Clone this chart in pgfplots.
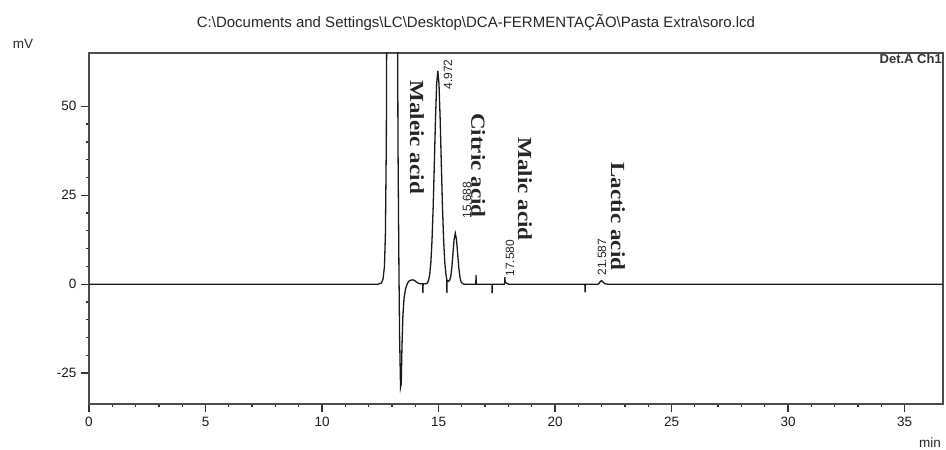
\documentclass[border=0pt]{standalone}
\usepackage{pgfplots}
\pgfplotsset{compat=1.18}
\usepackage{fontspec}
\setmainfont{Liberation Sans}
\newfontfamily\serifnames{Liberation Serif}
\usepackage{graphicx}

\pgfplotstableread{
t mv
0.00 0
12.40 0
12.55 0.3
12.62 1.5
12.68 5
12.72 14
12.76 40
12.80 120
13.00 300
13.22 120
13.26 40
13.30 5
13.33 -15
13.37 -29
13.40 -28
13.43 -18
13.47 -9
13.52 -4
13.58 -1.5
13.65 0
13.72 0.8
13.80 1.1
13.88 1.2
13.96 1.1
14.05 0.6
14.15 0.2
14.25 0.1
14.32 0.1
14.33 -2.5
14.34 0.1
14.45 0.1
14.52 0.3
14.57 1.0
14.62 2.6
14.67 6.0
14.72 12.2
14.77 21.6
14.82 33.8
14.87 46.5
14.92 56.3
14.97 60.0
15.02 56.3
15.07 46.5
15.12 33.8
15.17 21.6
15.22 12.2
15.27 6.0
15.32 2.6
15.355 1.3
15.36 -2.5
15.365 1.1
15.42 0.8
15.47 1.0
15.52 1.9
15.57 4.6
15.62 8.7
15.67 12.6
15.72 14.3
15.77 12.6
15.82 8.7
15.87 4.6
15.92 1.9
15.97 0.6
16.02 0.2
16.10 0
16.60 0
16.61 2.5
16.62 0
17.29 0
17.30 -2.5
17.31 0
17.83 0
17.84 0.5
17.85 2.0
17.86 0.6
17.92 0.3
18.00 0
21.28 0
21.29 -2.3
21.30 0
21.85 0
21.90 0.3
21.95 0.8
22.00 1.0
22.05 0.6
22.15 0.1
22.25 0
36.70 0
}\chrom

\begin{document}
\begin{tikzpicture}[x=1pt,y=1pt]
\path[use as bounding box] (0,0) rectangle (946,450);
\begin{axis}[
  at={(89pt,46pt)}, anchor=south west,
  scale only axis, width=854pt, height=351pt,
  xmin=0, xmax=36.65, ymin=-33.7, ymax=65,
  xtick={0,5,...,35}, ytick={-25,0,25,50},
  minor x tick num=4, minor y tick num=4,
  tick align=outside, xtick pos=bottom, ytick pos=left,
  major tick length=8pt, minor tick length=3pt,
  axis line style={draw=black!70, line width=1.6pt},
  every tick/.style={black!80, line width=1.3pt},
  tick label style={font=\fontsize{13.5}{16}\selectfont, text=black!90},
  /pgf/number format/assume math mode=true,
  xticklabel style={yshift=-2pt},
  yticklabel style={xshift=-1pt},
  clip=true,
]
\addplot[black!90, line width=1.3pt] table[x=t, y=mv] {\chrom};

\node[rotate=-90, font=\serifnames\bfseries\fontsize{20}{24}\selectfont, text=black!85] at (axis cs:14.08,41.3) {\scalebox{1.15}[1]{Maleic acid}};
\node[rotate=-90, font=\serifnames\bfseries\fontsize{20}{24}\selectfont, text=black!85] at (axis cs:16.70,33.4) {\scalebox{1.15}[1]{Citric acid}};
\node[rotate=-90, font=\serifnames\bfseries\fontsize{20}{24}\selectfont, text=black!85] at (axis cs:18.71,26.7) {\scalebox{1.15}[1]{Malic acid}};
\node[rotate=-90, font=\serifnames\bfseries\fontsize{20}{24}\selectfont, text=black!85] at (axis cs:22.70,19.1) {\scalebox{1.15}[1]{Lactic acid}};

\node[rotate=90, font=\fontsize{12}{14}\selectfont, text=black!85] at (axis cs:15.41,59.0) {4.972};
\node[rotate=90, font=\fontsize{12}{14}\selectfont, text=black!85] at (axis cs:16.22,23.6) {15.688};
\node[rotate=90, font=\fontsize{12}{14}\selectfont, text=black!85] at (axis cs:18.07,7.3) {17.580};
\node[rotate=90, font=\fontsize{12}{14}\selectfont, text=black!85] at (axis cs:22.02,7.6) {21.587};

\node[anchor=north east, font=\bfseries\fontsize{13}{16}\selectfont, text=black!80, inner sep=1pt] at (rel axis cs:1,1) {Det.A Ch1};
\end{axis}

\node[font=\fontsize{15}{17}\selectfont, text=black!85] at (476,427) {C:\textbackslash Documents and Settings\textbackslash LC\textbackslash Desktop\textbackslash DCA-FERMENTAÇÃO\textbackslash Pasta Extra\textbackslash soro.lcd};
\node[font=\fontsize{13.5}{16}\selectfont, text=black!85] at (23,406) {mV};
\node[font=\fontsize{13.5}{16}\selectfont, text=black!85] at (930,7) {min};
\end{tikzpicture}
\end{document}
